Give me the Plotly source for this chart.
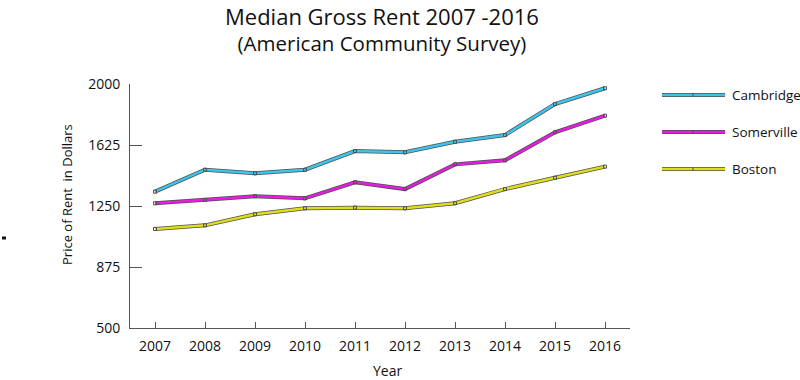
import plotly.graph_objects as go

years = [2007, 2008, 2009, 2010, 2011, 2012, 2013, 2014, 2015, 2016]
cambridge = [1338, 1473, 1451, 1473, 1588, 1580, 1645, 1686, 1877, 1974]
somerville = [1267, 1287, 1310, 1297, 1396, 1354, 1506, 1531, 1703, 1805]
boston = [1109, 1131, 1199, 1236, 1240, 1236, 1267, 1354, 1424, 1492]
y_ticks = [500, 875, 1250, 1625, 2000]
series_names = ["Cambridge", "Somerville", "Boston"]
series_colors = ["#3ec3ec", "#e41de0", "#dede1c"]
title_lines = ["Median Gross Rent 2007 -2016", "(American Community Survey)"]
x_title = "Year"
y_title = "Price of Rent &nbsp;in Dollars"

FONT = "Open Sans"
OUTLINE = "#505050"
W, H = 800, 380
L, R, T, B = 130, 170, 84, 52
PW, PH = W - L - R, H - T - B


def px_x(px):
    return (px - L) / PW


def px_y(py):
    return (H - B - py) / PH


fig = go.Figure()
for name, vals, col in zip(series_names, [cambridge, somerville, boston], series_colors):
    fig.add_trace(go.Scatter(x=years, y=vals, mode="lines", line=dict(color=OUTLINE, width=4.0),
                             showlegend=False, hoverinfo="skip"))
    fig.add_trace(go.Scatter(x=years, y=vals, mode="lines+markers", name=name,
                             line=dict(color=col, width=2.5),
                             marker=dict(symbol="square-open", size=3, color=OUTLINE,
                                         line=dict(width=1, color=OUTLINE)),
                             showlegend=False))

shapes = []
annotations = []
# manual legend
leg_py = [95, 132, 169]
for name, col, py in zip(series_names, series_colors, leg_py):
    yy = px_y(py)
    shapes.append(dict(type="line", xref="paper", yref="paper", x0=px_x(662), x1=px_x(725), y0=yy, y1=yy,
                       line=dict(color=OUTLINE, width=4.0)))
    shapes.append(dict(type="line", xref="paper", yref="paper", x0=px_x(662), x1=px_x(725), y0=yy, y1=yy,
                       line=dict(color=col, width=2.5)))
    shapes.append(dict(type="line", xref="paper", yref="paper", x0=px_x(693), x1=px_x(693),
                       y0=px_y(py + 2), y1=px_y(py - 2), line=dict(color=OUTLINE, width=1)))
    annotations.append(dict(text=name, xref="paper", yref="paper", x=px_x(730), y=yy,
                            xanchor="left", yanchor="middle", showarrow=False,
                            font=dict(family=FONT, size=13.5, color="#111")))

# title (one block, two lines)
title_text = ('<span style="font-size:22px">' + title_lines[0] + '</span><br>'
              '<span style="font-size:20.5px">' + title_lines[1] + '</span>')
annotations.append(dict(text=title_text, xref="paper", yref="paper", x=px_x(382), y=px_y(0),
                        xanchor="center", yanchor="top", showarrow=False, borderpad=0,
                        font=dict(family=FONT, size=20, color="#111")))

# axis titles
annotations.append(dict(text=x_title, xref="paper", yref="paper", x=px_x(387), y=px_y(370),
                        xanchor="center", yanchor="middle", showarrow=False,
                        font=dict(family=FONT, size=14, color="#111")))
annotations.append(dict(text=y_title, xref="paper", yref="paper", x=px_x(67), y=px_y(195),
                        xanchor="center", yanchor="middle", showarrow=False, textangle=-90,
                        font=dict(family=FONT, size=13, color="#111")))

# small stray mark on left
shapes.append(dict(type="rect", xref="paper", yref="paper", x0=px_x(2), x1=px_x(6),
                   y0=px_y(239.5), y1=px_y(236.5), fillcolor="#111", line=dict(width=0)))

fig.update_layout(
    width=W, height=H,
    margin=dict(l=L, r=R, t=T, b=B),
    paper_bgcolor="white", plot_bgcolor="white",
    font=dict(family=FONT, size=14, color="#111"),
    xaxis=dict(range=[2006.5, 2016.5], tickvals=years, ticktext=[str(y) for y in years],
               showgrid=False, zeroline=False, showline=True, linecolor="#555", linewidth=1,
               ticks="inside", ticklen=6, tickcolor="#555", ticklabelstandoff=5, automargin=False),
    yaxis=dict(range=[500, 2000], tickvals=y_ticks, ticktext=[str(v) for v in y_ticks],
               showgrid=False, zeroline=False, showline=True, linecolor="#555", linewidth=1,
               ticks="inside", ticklen=12, tickcolor="#555", ticklabelstandoff=6, automargin=False),
    shapes=shapes, annotations=annotations, showlegend=False,
)

fig.write_html("out.html", config={"displayModeBar": False},
               post_script="document.body.style.margin='0';document.body.style.overflow='hidden';")
